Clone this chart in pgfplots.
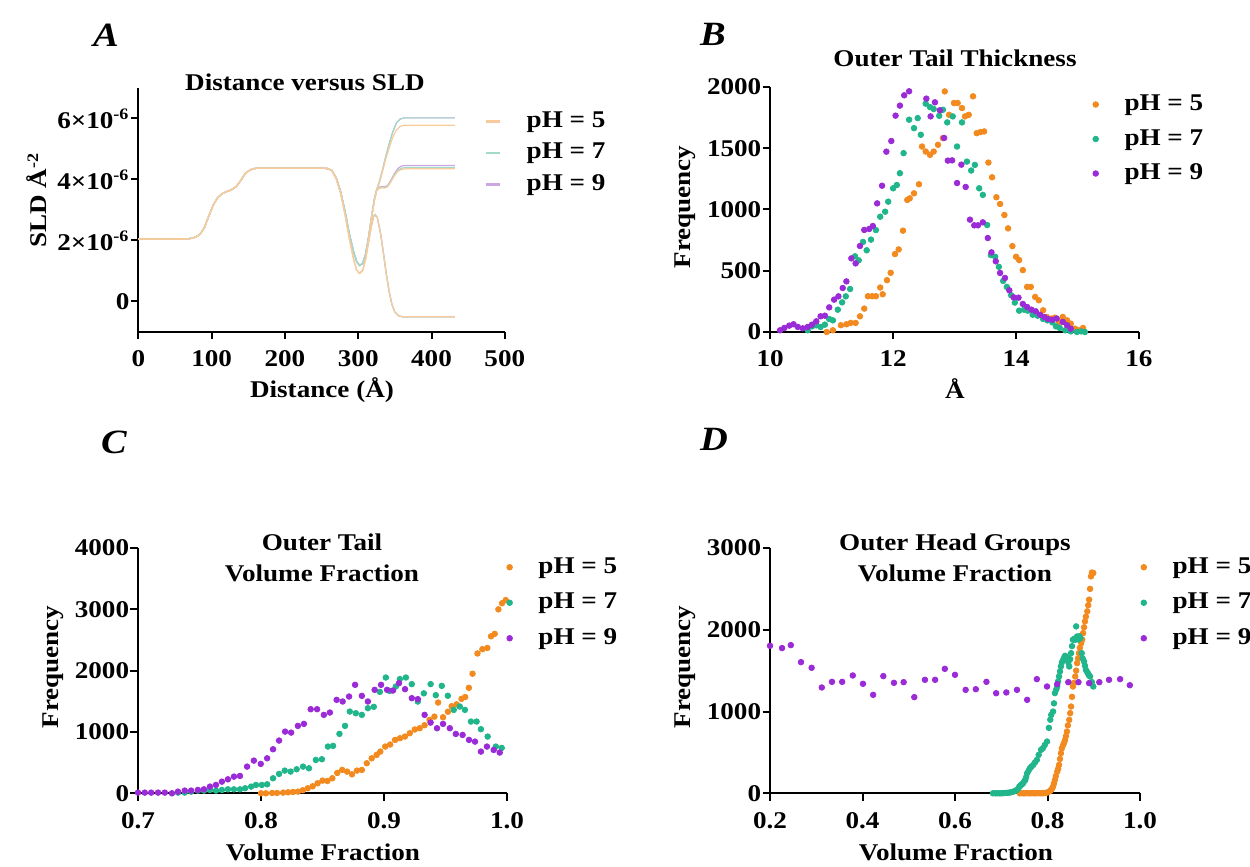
\documentclass[border=0pt]{standalone}
\usepackage{fontspec}
\setmainfont{Liberation Serif}[FakeStretch=1.13]
\usepackage{pgfplots}
\pgfplotsset{compat=1.18}

\definecolor{c5}{HTML}{F28A1F}
\definecolor{c7}{HTML}{21B58C}
\definecolor{c9}{HTML}{9A2BD6}
\definecolor{l5}{HTML}{F8CB9C}
\definecolor{l7}{HTML}{A3D9C8}
\definecolor{l9}{HTML}{CBA8E4}

\newcommand\lab{\fontsize{12pt}{14pt}\selectfont\bfseries}
\newcommand\letter{\fontsize{17pt}{19pt}\selectfont\bfseries\itshape}

\pgfplotsset{
  prism/.style={
    scale only axis, anchor=south west,
    axis lines=left, axis line style={-, line width=1pt},
    tick style={black, line width=1pt},
    tick align=outside, major tick length=3.75pt,
    tick label style={font=\lab},
    /pgf/number format/assume math mode=true,
    /pgf/number format/1000 sep={},
    xticklabel style={inner sep=0pt, yshift=-5.5pt},
    yticklabel style={inner sep=0pt, xshift=-0.5pt},
    clip=false,
    legend cell align=left,
    legend style={draw=none, fill=none, inner sep=0pt, anchor=north west, font=\lab,
      nodes={inner sep=0pt, text height=8.5pt, text depth=2.5pt},
      /tikz/every odd column/.append style={column sep=13pt}},
  },
  dotleg/.style={legend image code/.code={\draw[##1] plot coordinates {(0pt,0pt)};}},
  lineleg/.style={legend image code/.code={\draw[##1] (0pt,0pt) -- (7pt,0pt);}},
  dots/.style={only marks, mark=*, mark size=1.4pt, color=#1, mark options={draw=#1, fill=#1}},
  sld/.style={#1, line width=0.6pt, forget plot},
}

\begin{document}
\begin{tikzpicture}
\useasboundingbox (0,0) rectangle (625pt,433.5pt);

% ---------------- A: SLD profiles ----------------
\begin{axis}[prism, lineleg,
  at={(69.2pt,267.5pt)}, width=183.2pt, height=122pt,
  xmin=0, xmax=500, ymin=-1, ymax=7,
  xtick={0,100,200,300,400,500},
  ytick={0,2,4,6},
  yticklabels={0,2×10\textsuperscript{-6},4×10\textsuperscript{-6},6×10\textsuperscript{-6}},
  legend style={at={(0.943,0.91)}, row sep=4.75pt},
]
\addlegendimage{l5, line width=1.2pt}\addlegendentry{pH = 5}
\addlegendimage{l7, line width=1.2pt}\addlegendentry{pH = 7}
\addlegendimage{l9, line width=1.2pt}\addlegendentry{pH = 9}
% pH 9
\addplot[sld=l9] coordinates {(0,2.05) (65,2.05) (72,2.07) (78,2.11) (84,2.2) (90,2.42) (96,2.8) (102,3.15) (108,3.4) (114,3.53) (120,3.6) (127,3.66) (134,3.78) (140,3.98) (146,4.2) (152,4.31) (158,4.36) (165,4.37) (250,4.37) (258,4.36) (264,4.3)
 (270,4.05) (276,3.6) (282,2.95) (288,2.2) (294,1.6) (298,1.3) (302,1.18) (306,1.25) (310,1.55) (314,2.1) (318,2.75) (322,3.35) (325,3.65)
 (329,3.95) (333,4.3) (337,4.7) (342,5.15) (347,5.55) (352,5.85) (357,5.98) (363,6.02) (432,6.02)};
\addplot[sld=l9] coordinates {(0,2.05) (65,2.05) (72,2.07) (78,2.11) (84,2.2) (90,2.42) (96,2.8) (102,3.15) (108,3.4) (114,3.53) (120,3.6) (127,3.66) (134,3.78) (140,3.98) (146,4.2) (152,4.31) (158,4.36) (165,4.37) (250,4.37) (258,4.36) (264,4.3)
 (270,4.05) (276,3.6) (282,2.95) (288,2.2) (294,1.6) (298,1.3) (302,1.18) (306,1.25) (310,1.55) (314,2.1) (318,2.75) (322,3.35) (325,3.65)
 (328,3.74) (332,3.77) (336,3.76) (340,3.8) (344,3.95) (349,4.18) (354,4.36) (359,4.44) (365,4.46) (432,4.46)};
\addplot[sld=l9] coordinates {(0,2.05) (65,2.05) (72,2.07) (78,2.11) (84,2.2) (90,2.42) (96,2.8) (102,3.15) (108,3.4) (114,3.53) (120,3.6) (127,3.66) (134,3.78) (140,3.98) (146,4.2) (152,4.31) (158,4.36) (165,4.37) (250,4.37) (258,4.36) (264,4.3)
 (270,4.05) (276,3.6) (282,2.95) (288,2.2) (294,1.6) (298,1.3) (302,1.18) (306,1.25) (310,1.5) (314,1.95) (318,2.5) (321,2.8) (323,2.85)
 (326,2.75) (330,2.3) (334,1.65) (338,0.95) (342,0.35) (346,-0.1) (350,-0.35) (355,-0.47) (360,-0.5) (432,-0.5)};
% pH 7
\addplot[sld=l7] coordinates {(0,2.05) (65,2.05) (72,2.07) (78,2.11) (84,2.2) (90,2.42) (96,2.8) (102,3.15) (108,3.4) (114,3.53) (120,3.6) (127,3.66) (134,3.78) (140,3.98) (146,4.2) (152,4.31) (158,4.36) (165,4.37) (250,4.37) (258,4.36) (264,4.3)
 (270,4.05) (276,3.6) (282,2.95) (288,2.2) (294,1.6) (298,1.3) (302,1.18) (306,1.25) (310,1.55) (314,2.1) (318,2.75) (322,3.35) (325,3.65)
 (329,3.95) (333,4.3) (337,4.7) (342,5.15) (347,5.55) (352,5.85) (357,5.98) (363,6.02) (432,6.02)};
\addplot[sld=l7] coordinates {(0,2.05) (65,2.05) (72,2.07) (78,2.11) (84,2.2) (90,2.42) (96,2.8) (102,3.15) (108,3.4) (114,3.53) (120,3.6) (127,3.66) (134,3.78) (140,3.98) (146,4.2) (152,4.31) (158,4.36) (165,4.37) (250,4.37) (258,4.36) (264,4.3)
 (270,4.05) (276,3.6) (282,2.95) (288,2.2) (294,1.6) (298,1.3) (302,1.18) (306,1.25) (310,1.55) (314,2.1) (318,2.75) (322,3.35) (325,3.65)
 (328,3.72) (332,3.75) (336,3.74) (340,3.78) (344,3.92) (349,4.14) (354,4.3) (359,4.37) (365,4.39) (432,4.39)};
\addplot[sld=l7] coordinates {(0,2.05) (65,2.05) (72,2.07) (78,2.11) (84,2.2) (90,2.42) (96,2.8) (102,3.15) (108,3.4) (114,3.53) (120,3.6) (127,3.66) (134,3.78) (140,3.98) (146,4.2) (152,4.31) (158,4.36) (165,4.37) (250,4.37) (258,4.36) (264,4.3)
 (270,4.05) (276,3.6) (282,2.95) (288,2.2) (294,1.6) (298,1.3) (302,1.18) (306,1.25) (310,1.5) (314,1.95) (318,2.5) (321,2.8) (323,2.85)
 (326,2.75) (330,2.3) (334,1.65) (338,0.95) (342,0.35) (346,-0.1) (350,-0.35) (355,-0.47) (360,-0.5) (432,-0.5)};
% pH 5
\addplot[sld=l5] coordinates {(0,2.05) (65,2.05) (72,2.07) (78,2.11) (84,2.2) (90,2.42) (96,2.8) (102,3.15) (108,3.4) (114,3.53) (120,3.6) (127,3.66) (134,3.78) (140,3.98) (146,4.2) (152,4.31) (158,4.36) (165,4.37) (250,4.37) (258,4.36) (264,4.3)
 (270,4.02) (276,3.55) (282,2.85) (288,2.05) (294,1.35) (298,1.02) (302,0.92) (306,1.02) (310,1.4) (314,2.0) (318,2.7) (322,3.3) (325,3.62)
 (329,3.9) (333,4.25) (337,4.62) (342,5.02) (347,5.38) (352,5.62) (357,5.74) (363,5.78) (432,5.78)};
\addplot[sld=l5] coordinates {(0,2.05) (65,2.05) (72,2.07) (78,2.11) (84,2.2) (90,2.42) (96,2.8) (102,3.15) (108,3.4) (114,3.53) (120,3.6) (127,3.66) (134,3.78) (140,3.98) (146,4.2) (152,4.31) (158,4.36) (165,4.37) (250,4.37) (258,4.36) (264,4.3)
 (270,4.02) (276,3.55) (282,2.85) (288,2.05) (294,1.35) (298,1.02) (302,0.92) (306,1.02) (310,1.4) (314,2.0) (318,2.7) (322,3.3) (325,3.62)
 (328,3.7) (332,3.73) (336,3.72) (340,3.76) (344,3.9) (349,4.11) (354,4.27) (359,4.33) (365,4.35) (432,4.35)};
\addplot[sld=l5] coordinates {(0,2.05) (65,2.05) (72,2.07) (78,2.11) (84,2.2) (90,2.42) (96,2.8) (102,3.15) (108,3.4) (114,3.53) (120,3.6) (127,3.66) (134,3.78) (140,3.98) (146,4.2) (152,4.31) (158,4.36) (165,4.37) (250,4.37) (258,4.36) (264,4.3)
 (270,4.02) (276,3.55) (282,2.85) (288,2.05) (294,1.35) (298,1.02) (302,0.92) (306,1.02) (310,1.35) (314,1.9) (318,2.45) (321,2.78) (323,2.83)
 (326,2.75) (330,2.3) (334,1.65) (338,0.95) (342,0.35) (346,-0.1) (350,-0.35) (355,-0.47) (360,-0.5) (432,-0.5)};
\end{axis}

% ---------------- B: outer tail thickness ----------------
\begin{axis}[prism, dotleg,
  at={(385.1pt,267.5pt)}, width=184.4pt, height=122.5pt,
  xmin=10, xmax=16, ymin=0, ymax=2000,
  xtick={10,12,14,16}, ytick={0,500,1000,1500,2000},
  legend style={at={(0.874,0.975)}, row sep=6.25pt},
]
\addplot[dots=c5] coordinates {(10.92,0) (11.02,14) (11.15,55) (11.24,63) (11.31,74) (11.39,74) (11.46,128) (11.53,191) (11.59,292) (11.66,292) (11.72,292) (11.79,363) (11.83,308) (11.90,423) (11.96,483) (12.03,636) (12.09,674) (12.16,827) (12.23,1078) (12.27,1091) (12.34,1132) (12.42,1206) (12.47,1514) (12.53,1473) (12.60,1446) (12.66,1473) (12.73,1528) (12.81,1583) (12.84,1964) (12.91,1773) (12.99,1869) (13.05,1869) (13.12,1828) (13.17,1760) (13.23,1773) (13.30,1924) (13.36,1623) (13.42,1632) (13.48,1637) (13.55,1383) (13.61,1263) (13.68,1100) (13.74,1045) (13.81,955) (13.87,846) (13.94,701) (14.00,614) (14.05,587) (14.11,505) (14.18,368) (14.24,368) (14.31,286) (14.37,259) (14.44,177) (14.50,123) (14.57,109) (14.63,117) (14.70,82) (14.76,123) (14.83,95) (14.89,68) (14.96,27) (15.02,14) (15.09,33)};
\addlegendentry{pH = 5}
\addplot[dots=c7] coordinates {(10.61,14) (10.68,46) (10.75,54) (10.82,41) (10.89,60) (10.96,106) (11.02,95) (11.10,182) (11.17,242) (11.23,291) (11.30,351) (11.38,618) (11.44,585) (11.51,735) (11.57,667) (11.64,754) (11.72,832) (11.79,941) (11.87,982) (11.92,1064) (12.00,1173) (12.06,1200) (12.11,1296) (12.17,1460) (12.26,1733) (12.34,1664) (12.40,1746) (12.45,1610) (12.53,1864) (12.60,1836) (12.66,1820) (12.75,1765) (12.81,1814) (12.88,1711) (12.97,1760) (13.04,1514) (13.12,1711) (13.20,1391) (13.27,1318) (13.33,1364) (13.40,1173) (13.46,1119) (13.53,873) (13.59,628) (13.66,614) (13.72,532) (13.79,417) (13.85,368) (13.92,300) (13.98,240) (14.05,174) (14.13,182) (14.19,174) (14.27,141) (14.35,133) (14.44,106) (14.51,95) (14.59,79) (14.65,46) (14.71,33) (14.80,14) (14.89,5) (14.99,0) (15.06,5) (15.12,0)};
\addlegendentry{pH = 7}
\addplot[dots=c9] coordinates {(10.16,14) (10.23,33) (10.31,52) (10.38,63) (10.45,41) (10.53,30) (10.61,41) (10.68,60) (10.75,87) (10.82,128) (10.89,133) (10.96,201) (11.04,264) (11.11,291) (11.18,359) (11.24,413) (11.32,601) (11.39,560) (11.46,702) (11.53,833) (11.61,841) (11.67,865) (11.74,1050) (11.82,1194) (11.89,1472) (11.97,1559) (12.04,1766) (12.11,1848) (12.18,1932) (12.26,1965) (12.54,1905) (12.61,1760) (12.68,1875) (12.76,1810) (12.83,1584) (12.89,1399) (12.96,1401) (13.04,1216) (13.11,1366) (13.18,1184) (13.25,917) (13.32,871) (13.38,871) (13.46,895) (13.54,767) (13.60,650) (13.67,577) (13.74,482) (13.82,441) (13.89,340) (13.96,283) (14.04,280) (14.11,229) (14.18,204) (14.25,182) (14.32,169) (14.39,141) (14.46,122) (14.52,106) (14.59,100) (14.66,110) (14.76,82) (14.83,55) (14.89,27)};
\addlegendentry{pH = 9}
\end{axis}

% ---------------- C: outer tail volume fraction ----------------
\begin{axis}[prism, dotleg,
  at={(69pt,36.85pt)}, width=184.5pt, height=122.65pt,
  xmin=0.7, xmax=1.0, ymin=0, ymax=4000,
  xtick={0.7,0.8,0.9,1.0}, xticklabels={0.7,0.8,0.9,1.0},
  ytick={0,1000,2000,3000,4000},
  legend style={at={(0.9985,0.968)}, row sep=6.75pt},
]
\addplot[dots=c5] coordinates {(0.800,0) (0.804,0) (0.809,5) (0.813,5) (0.818,11) (0.822,16) (0.826,22) (0.830,27) (0.834,49) (0.838,82) (0.842,114) (0.846,163) (0.850,207) (0.854,201) (0.858,245) (0.862,332) (0.866,381) (0.870,354) (0.874,310) (0.878,370) (0.882,381) (0.886,490) (0.890,571) (0.894,626) (0.897,680) (0.901,762) (0.905,795) (0.909,870) (0.913,898) (0.917,925) (0.921,980) (0.925,1040) (0.929,1061) (0.933,1110) (0.937,1197) (0.941,1250) (0.944,1480) (0.948,1240) (0.952,1330) (0.955,1420) (0.959,1450) (0.963,1540) (0.966,1570) (0.969,1720) (0.972,1950) (0.976,2280) (0.980,2350) (0.984,2370) (0.987,2560) (0.990,2600) (0.993,3000) (0.996,3100) (0.999,3150)};
\addlegendentry{pH = 5}
\addplot[dots=c7] coordinates {(0.7325,11) (0.738,11) (0.7432,27) (0.7487,44) (0.7536,44) (0.7585,54) (0.7634,44) (0.7682,54) (0.7731,65) (0.778,65) (0.7829,65) (0.7871,82) (0.792,109) (0.7959,136) (0.8007,136) (0.805,147) (0.8098,245) (0.8147,316) (0.8193,370) (0.8241,354) (0.829,392) (0.8342,435) (0.839,408) (0.8446,544) (0.8495,555) (0.8544,762) (0.8586,773) (0.8638,969) (0.8683,1099) (0.8722,1333) (0.8771,1306) (0.882,1279) (0.8869,1388) (0.8917,1410) (0.8966,1654) (0.9015,1888) (0.9047,1669) (0.9096,1741) (0.9129,1862) (0.9178,1888) (0.9226,1780) (0.9275,1496) (0.9324,1630) (0.9379,1780) (0.9421,1600) (0.947,1752) (0.9519,1590) (0.9567,1360) (0.9616,1415) (0.9658,1360) (0.9707,1170) (0.9753,1170) (0.9788,1045) (0.9843,925) (0.9909,762) (0.9957,740)};
\addlegendentry{pH = 7}
\addplot[dots=c9] coordinates {(0.700,11) (0.7055,11) (0.7107,11) (0.7163,11) (0.7218,11) (0.7276,0) (0.7325,27) (0.738,44) (0.7432,44) (0.7487,54) (0.7536,65) (0.7585,109) (0.7634,136) (0.7682,190) (0.7731,228) (0.778,272) (0.7829,283) (0.7887,435) (0.7942,533) (0.7998,479) (0.805,571) (0.8098,718) (0.8147,860) (0.8196,1006) (0.8245,990) (0.830,1099) (0.8349,1132) (0.8404,1371) (0.8456,1371) (0.8511,1279) (0.856,1317) (0.8615,1524) (0.8664,1497) (0.8716,1578) (0.8765,1769) (0.882,1589) (0.8869,1497) (0.8924,1687) (0.8976,1769) (0.9025,1687) (0.9073,1676) (0.9122,1796) (0.9171,1698) (0.9226,1551) (0.9275,1535) (0.933,1279) (0.9379,1153) (0.9431,1061) (0.948,1132) (0.9535,1061) (0.9584,968) (0.9639,952) (0.9691,871) (0.974,843) (0.9788,680) (0.9837,762) (0.9892,707) (0.9941,664)};
\addlegendentry{pH = 9}
\end{axis}

% ---------------- D: outer head groups volume fraction ----------------
\begin{axis}[prism, dotleg,
  at={(385pt,36.85pt)}, width=185pt, height=122.65pt,
  xmin=0.2, xmax=1.0, ymin=0, ymax=3000,
  xtick={0.2,0.4,0.6,0.8,1.0}, xticklabels={0.2,0.4,0.6,0.8,1.0},
  ytick={0,1000,2000,3000},
  legend style={at={(1.0016,0.968)}, row sep=6.75pt},
]
\addplot[dots=c5] coordinates {(0.740,0) (0.744,2) (0.748,0) (0.752,0) (0.756,3) (0.760,0) (0.764,0) (0.768,2) (0.772,0) (0.776,0) (0.780,3) (0.784,0) (0.788,0) (0.792,2) (0.796,5) (0.800,10) (0.803,20) (0.806,30) (0.808,41) (0.810,60) (0.812,82) (0.814,120) (0.816,163) (0.818,210) (0.821,265) (0.823,300) (0.825,347) (0.827,420) (0.829,490) (0.831,550) (0.834,592) (0.836,620) (0.838,653) (0.840,700) (0.842,755) (0.844,830) (0.847,898) (0.849,980) (0.851,1061) (0.853,1180) (0.855,1306) (0.857,1350) (0.860,1429) (0.862,1500) (0.864,1592) (0.866,1650) (0.868,1714) (0.870,1780) (0.873,1837) (0.875,1880) (0.877,1959) (0.879,2030) (0.881,2102) (0.883,2160) (0.886,2225) (0.888,2300) (0.890,2368) (0.892,2500) (0.894,2653) (0.896,2700) (0.899,2694)};
\addlegendentry{pH = 5}
\addplot[dots=c7] coordinates {(0.682,0) (0.687,0) (0.691,0) (0.696,0) (0.700,0) (0.704,2) (0.708,4) (0.713,6) (0.717,8) (0.721,12) (0.726,20) (0.730,30) (0.734,41) (0.737,60) (0.739,82) (0.741,92) (0.743,102) (0.745,112) (0.747,122) (0.750,150) (0.752,163) (0.754,200) (0.756,245) (0.759,275) (0.762,306) (0.765,325) (0.769,347) (0.773,378) (0.777,408) (0.781,470) (0.786,531) (0.790,551) (0.794,590) (0.799,633) (0.803,800) (0.806,900) (0.808,959) (0.812,1000) (0.814,1100) (0.816,1225) (0.819,1270) (0.821,1306) (0.823,1370) (0.825,1429) (0.827,1490) (0.829,1551) (0.831,1600) (0.834,1633) (0.836,1660) (0.838,1682) (0.840,1650) (0.842,1665) (0.845,1600) (0.847,1551) (0.849,1640) (0.851,1714) (0.853,1800) (0.855,1878) (0.858,1890) (0.860,1878) (0.862,2041) (0.864,1918) (0.867,1880) (0.869,1920) (0.871,1898) (0.874,1714) (0.876,1650) (0.879,1612) (0.881,1560) (0.883,1510) (0.886,1480) (0.888,1461) (0.890,1440) (0.892,1429) (0.896,1360) (0.899,1306)};
\addlegendentry{pH = 7}
\addplot[dots=c9] coordinates {(0.200,1804) (0.226,1776) (0.245,1812) (0.267,1604) (0.290,1535) (0.312,1294) (0.334,1363) (0.356,1363) (0.379,1441) (0.401,1339) (0.423,1204) (0.445,1433) (0.468,1351) (0.489,1359) (0.512,1176) (0.535,1388) (0.557,1388) (0.578,1522) (0.600,1449) (0.623,1265) (0.645,1273) (0.668,1363) (0.689,1224) (0.711,1233) (0.734,1265) (0.756,1143) (0.777,1396) (0.799,1306) (0.821,1335) (0.845,1359) (0.867,1359) (0.890,1347) (0.912,1359) (0.933,1388) (0.957,1396) (0.978,1322)};
\addlegendentry{pH = 9}
\end{axis}

% ---------------- titles, letters, axis labels ----------------
\begin{scope}[every node/.style={font=\lab, inner sep=0pt}]
\node[font=\letter, anchor=base] at (53pt,410pt) {A};
\node[font=\letter, anchor=base] at (356.5pt,410.5pt) {B};
\node[font=\letter, anchor=base] at (57pt,206.5pt) {C};
\node[font=\letter, anchor=base] at (357pt,208pt) {D};

\node[anchor=base] at (152.5pt,388pt) {Distance versus SLD};
\node[anchor=base] at (477.5pt,400.2pt) {Outer Tail Thickness};
\node[anchor=base] at (161pt,158pt) {Outer Tail};
\node[anchor=base] at (161pt,142.5pt) {Volume Fraction};
\node[anchor=base] at (477.5pt,158pt) {Outer Head Groups};
\node[anchor=base] at (477.5pt,142.5pt) {Volume Fraction};

\node[anchor=base] at (161pt,234.5pt) {Distance (Å)};
\node[anchor=base] at (477.5pt,234pt) {Å};
\node[anchor=base] at (161.5pt,3.2pt) {Volume Fraction};
\node[anchor=base] at (478pt,3.2pt) {Volume Fraction};

\node[rotate=90] at (18.5pt,333.5pt) {SLD Å\textsuperscript{-2}};
\node[rotate=90] at (342.5pt,330pt) {Frequency};
\node[rotate=90] at (26.5pt,100pt) {Frequency};
\node[rotate=90] at (342.5pt,100pt) {Frequency};
\end{scope}
\end{tikzpicture}
\end{document}
